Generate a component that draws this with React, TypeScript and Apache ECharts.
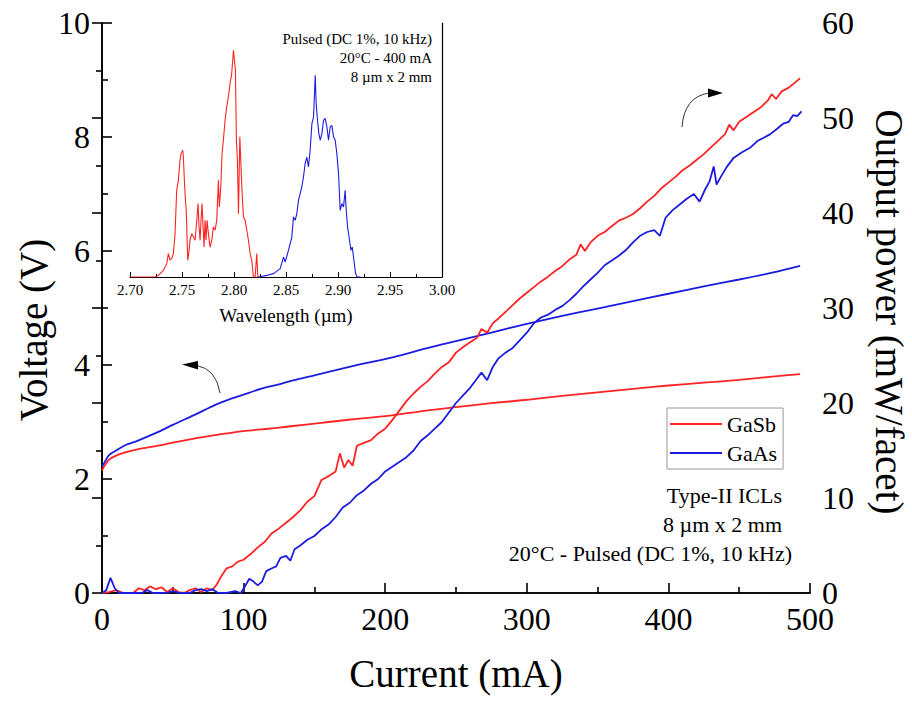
import React, { useEffect, useRef } from 'react';
import * as echarts from 'echarts';

// ---- Main chart: voltage (left axis) ----
const currentV = [0, 2, 5, 10, 17, 25, 41, 50, 65, 80, 88, 100, 112, 125, 135, 150, 160, 182, 206, 229, 250, 275, 300, 325, 350, 375, 400, 425, 450, 475, 493];
const gasbVoltage = [2.15, 2.24, 2.34, 2.41, 2.47, 2.52, 2.59, 2.64, 2.71, 2.77, 2.8, 2.84, 2.87, 2.9, 2.93, 2.97, 3.0, 3.06, 3.12, 3.2, 3.26, 3.33, 3.39, 3.46, 3.52, 3.58, 3.64, 3.69, 3.74, 3.8, 3.84];
const gaasVoltage = [2.22, 2.3, 2.42, 2.5, 2.6, 2.67, 2.84, 2.95, 3.12, 3.3, 3.38, 3.48, 3.58, 3.66, 3.73, 3.82, 3.88, 4.01, 4.14, 4.29, 4.42, 4.57, 4.72, 4.86, 4.99, 5.12, 5.25, 5.38, 5.5, 5.63, 5.74];

// ---- Main chart: output power (right axis) ----
const gasbPowerI = [0, 5, 10, 15, 22, 26, 30, 34, 38, 42, 46, 50, 54, 58, 62, 66, 70, 74, 78, 81, 84, 88, 92, 96, 100, 105, 110, 115, 120, 125, 130, 135, 140, 145, 150, 155, 160, 165, 168, 171, 174, 177, 180, 185, 190, 195, 200, 205, 210, 215, 220, 225, 230, 235, 240, 245, 250, 255, 260, 265, 268, 272, 276, 280, 285, 290, 295, 300, 305, 310, 315, 320, 325, 330, 335, 338, 341, 345, 350, 355, 360, 365, 370, 375, 380, 385, 390, 395, 400, 405, 410, 415, 420, 425, 430, 435, 440, 443, 446, 450, 455, 460, 465, 470, 473, 476, 480, 485, 490, 493];
const gasbPower = [0, 0.1, 0.3, 0, 0, 0.5, 0.3, 0.7, 0.4, 0.6, 0.1, 0.5, 0.1, 0, 0.3, 0.5, 0.1, 0.5, 0.3, 0.9, 1.7, 2.6, 2.8, 3.3, 3.5, 4.1, 4.8, 5.4, 6.3, 6.8, 7.4, 8.0, 8.7, 9.6, 10.2, 11.9, 12.3, 12.8, 14.7, 13.2, 14.0, 13.4, 15.5, 15.8, 16.1, 16.8, 17.3, 18.2, 19.2, 20.2, 21.0, 21.7, 22.3, 23.1, 23.8, 24.3, 25.3, 25.9, 26.4, 26.9, 27.8, 27.4, 28.4, 28.9, 29.6, 30.3, 31.0, 31.6, 32.2, 32.8, 33.3, 33.9, 34.4, 35.1, 35.6, 36.7, 36.0, 36.9, 37.6, 38.0, 38.6, 39.2, 39.5, 39.9, 40.5, 41.2, 41.8, 42.6, 43.2, 43.8, 44.5, 45.0, 45.6, 46.2, 46.9, 47.6, 48.3, 49.3, 48.7, 49.6, 50.1, 50.6, 51.1, 51.8, 52.5, 52.0, 52.8, 53.2, 53.8, 54.2];
const gaasPowerI = [0, 3, 6, 9, 12, 20, 28, 32, 36, 45, 50, 55, 62, 66, 70, 74, 78, 82, 88, 94, 98, 101, 104, 107, 110, 113, 116, 120, 123, 126, 130, 133, 136, 140, 145, 150, 155, 160, 165, 170, 175, 180, 185, 190, 195, 200, 205, 210, 215, 220, 225, 230, 235, 240, 245, 250, 255, 260, 265, 268, 272, 276, 280, 285, 290, 295, 300, 305, 310, 315, 320, 325, 330, 335, 340, 345, 350, 355, 360, 365, 370, 375, 380, 385, 390, 394, 398, 403, 408, 413, 418, 422, 426, 429, 432, 434, 437, 441, 446, 452, 458, 463, 467, 472, 477, 481, 485, 488, 491, 494];
const gaasPower = [0, 0.3, 1.6, 0.5, 0, 0, 0, 0.3, 0, 0, 0.2, 0, 0, 0.3, 0.4, 0.2, 0.4, 0, 0, 0.2, 0, 0.7, 1.5, 1.2, 0.8, 1.2, 2.3, 2.6, 2.8, 3.7, 3.9, 3.4, 4.6, 5.0, 5.6, 6.0, 6.7, 7.2, 8.0, 9.0, 9.5, 10.3, 10.8, 11.5, 12.0, 12.8, 13.3, 13.8, 14.3, 15.0, 16.0, 16.6, 17.3, 18.0, 19.0, 20.0, 20.8, 21.6, 22.6, 23.2, 22.4, 23.8, 24.7, 25.3, 25.8, 26.6, 27.4, 28.4, 29.0, 29.3, 29.8, 30.2, 30.8, 31.5, 32.3, 33.0, 33.7, 34.5, 35.0, 35.5, 36.1, 36.9, 37.6, 38.0, 38.2, 37.6, 39.5, 40.3, 40.9, 41.5, 42.0, 41.2, 42.5, 43.3, 44.9, 43.0, 43.8, 44.8, 45.8, 46.4, 46.9, 47.6, 47.9, 48.3, 48.9, 49.4, 49.6, 50.3, 50.2, 50.7];

// ---- Inset: emission spectra (normalised intensity) ----
const gasbWl = [2.7, 2.724, 2.7273, 2.7321, 2.7353, 2.7369, 2.7385, 2.7401, 2.7417, 2.7433, 2.7449, 2.7465, 2.7481, 2.7491, 2.7507, 2.7513, 2.7523, 2.7533, 2.7539, 2.7545, 2.7555, 2.7565, 2.7577, 2.7594, 2.761, 2.7626, 2.7642, 2.7654, 2.7664, 2.7674, 2.7683, 2.7693, 2.7703, 2.7712, 2.7722, 2.7731, 2.7741, 2.7754, 2.777, 2.7786, 2.7802, 2.7818, 2.7834, 2.785, 2.7859, 2.7873, 2.7885, 2.7898, 2.7914, 2.793, 2.7946, 2.7962, 2.7978, 2.7995, 2.8004, 2.8014, 2.8023, 2.8033, 2.8043, 2.8056, 2.8065, 2.8078, 2.8091, 2.8107, 2.8123, 2.8139, 2.8155, 2.8171, 2.8187, 2.8203, 2.8219, 2.8229, 2.8251];
const gasbIntensity = [0, 0, 0.007, 0.029, 0.059, 0.103, 0.074, 0.081, 0.103, 0.191, 0.382, 0.426, 0.515, 0.544, 0.559, 0.529, 0.426, 0.338, 0.309, 0.235, 0.074, 0.103, 0.162, 0.191, 0.176, 0.162, 0.25, 0.324, 0.221, 0.162, 0.25, 0.324, 0.221, 0.132, 0.25, 0.162, 0.25, 0.191, 0.132, 0.162, 0.221, 0.206, 0.25, 0.426, 0.309, 0.397, 0.544, 0.603, 0.691, 0.75, 0.794, 0.853, 0.897, 1.0, 0.956, 0.912, 0.603, 0.515, 0.279, 0.618, 0.515, 0.368, 0.265, 0.25, 0.206, 0.162, 0.103, 0.074, 0, 0, 0.103, 0, 0];
const gaasWl = [2.8235, 2.8315, 2.838, 2.8444, 2.8476, 2.8492, 2.8524, 2.8556, 2.8572, 2.8588, 2.8604, 2.862, 2.8636, 2.8652, 2.8668, 2.8684, 2.87, 2.8716, 2.8732, 2.8749, 2.8765, 2.8781, 2.879, 2.8803, 2.8816, 2.8829, 2.8845, 2.8861, 2.8877, 2.8893, 2.8909, 2.8925, 2.8941, 2.8957, 2.8973, 2.8989, 2.9005, 2.9021, 2.9037, 2.9053, 2.9069, 2.9079, 2.9092, 2.9111, 2.9124, 2.9137, 2.9153, 2.9169, 2.9185, 2.9217];
const gaasIntensity = [0, 0.007, 0.015, 0.037, 0.088, 0.066, 0.118, 0.176, 0.265, 0.25, 0.279, 0.338, 0.368, 0.397, 0.441, 0.5, 0.529, 0.485, 0.559, 0.676, 0.706, 0.89, 0.765, 0.691, 0.632, 0.603, 0.632, 0.691, 0.699, 0.662, 0.603, 0.662, 0.669, 0.618, 0.603, 0.544, 0.456, 0.294, 0.324, 0.309, 0.382, 0.294, 0.221, 0.162, 0.118, 0.132, 0.074, 0.015, 0, 0];

const seriesNames = ['GaSb', 'GaAs'];
const insetNotes = ['Pulsed (DC 1%, 10 kHz)', '20°C - 400 mA', '8 µm x 2 mm'];
const mainNotes = ['Type-II ICLs', '8 µm x 2 mm', '20°C - Pulsed (DC 1%, 10 kHz)'];

const RED = '#ff2424';
const BLUE = '#1c1ce0';
const SERIF = 'Liberation Serif, Times New Roman, serif';

const zip = (xs: number[], ys: number[]) => xs.map((x, i) => [x, ys[i]]);

function buildOption() {
  const axisLine = { show: true, lineStyle: { color: '#000', width: 1.6 } };
  const tickStyle = { color: '#000', width: 1.6 };
  const mainLabel = { color: '#000', fontSize: 32, fontFamily: SERIF };
  return {
    animation: false,
    backgroundColor: '#fff',
    textStyle: { fontFamily: SERIF },
    grid: [
      { left: 102, right: 102, top: 23, bottom: 109 },
      { left: 130, right: 470, top: 23, bottom: 425 },
    ],
    xAxis: [
      {
        type: 'value', gridIndex: 0, min: 0, max: 500, interval: 100,
        axisLine, axisTick: { show: true, inside: true, length: 10, lineStyle: tickStyle },
        minorTick: { show: true, splitNumber: 2, length: 6, lineStyle: tickStyle },
        axisLabel: { ...mainLabel, margin: 13, lineHeight: 26 },
        splitLine: { show: false },
      },
      {
        type: 'value', gridIndex: 0, position: 'top', min: 0, max: 500,
        axisLine, axisTick: { show: false }, axisLabel: { show: false }, splitLine: { show: false },
      },
      {
        type: 'value', gridIndex: 1, min: 2.7, max: 3.0, interval: 0.05,
        axisLine: { show: true, lineStyle: { color: '#000', width: 1.2 } },
        axisTick: { show: true, inside: true, length: 5, lineStyle: { color: '#000', width: 1 } },
        minorTick: { show: true, splitNumber: 2, length: 3, lineStyle: { color: '#000', width: 1 } },
        axisLabel: { color: '#000', fontSize: 15, fontFamily: SERIF, margin: 5, formatter: (v: number) => v.toFixed(2) },
        splitLine: { show: false },
      },
    ],
    yAxis: [
      {
        type: 'value', gridIndex: 0, position: 'left', min: 0, max: 10, interval: 2,
        axisLine, axisTick: { show: true, inside: true, length: 10, lineStyle: tickStyle },
        minorTick: { show: true, splitNumber: 2, length: 6, lineStyle: tickStyle },
        axisLabel: { ...mainLabel, margin: 12, lineHeight: 22 },
        splitLine: { show: false },
      },
      {
        type: 'value', gridIndex: 0, position: 'right', min: 0, max: 60, interval: 10,
        axisLine, axisTick: { show: true, inside: true, length: 10, lineStyle: tickStyle },
        minorTick: { show: true, splitNumber: 2, length: 6, lineStyle: tickStyle },
        axisLabel: { ...mainLabel, margin: 12, lineHeight: 22 },
        splitLine: { show: false },
      },
      {
        type: 'value', gridIndex: 1, position: 'right', min: 0, max: 1.12,
        axisLine: { show: true, lineStyle: { color: '#000', width: 1.2 } },
        axisTick: { show: false }, axisLabel: { show: false }, splitLine: { show: false },
      },
    ],
    legend: {
      data: seriesNames,
      orient: 'vertical',
      left: 667, top: 408,
      icon: 'rect',
      itemWidth: 52, itemHeight: 2, itemGap: 7,
      padding: [5, 6, 5, 3],
      borderColor: '#999', borderWidth: 1,
      backgroundColor: '#fff',
      textStyle: { color: '#000', fontSize: 22, fontFamily: 'Liberation Serif', fontWeight: 'normal' },
      selectedMode: false,
    },
    series: [
      { name: seriesNames[0], type: 'line', xAxisIndex: 0, yAxisIndex: 0, data: zip(currentV, gasbVoltage), symbol: 'none', smooth: 0.3, lineStyle: { color: RED, width: 1.8 }, itemStyle: { color: RED } },
      { name: seriesNames[1], type: 'line', xAxisIndex: 0, yAxisIndex: 0, data: zip(currentV, gaasVoltage), symbol: 'none', smooth: 0.3, lineStyle: { color: BLUE, width: 1.8 }, itemStyle: { color: BLUE } },
      { name: seriesNames[0], type: 'line', xAxisIndex: 0, yAxisIndex: 1, data: zip(gasbPowerI, gasbPower), symbol: 'none', lineStyle: { color: RED, width: 1.8 }, itemStyle: { color: RED } },
      { name: seriesNames[1], type: 'line', xAxisIndex: 0, yAxisIndex: 1, data: zip(gaasPowerI, gaasPower), symbol: 'none', lineStyle: { color: BLUE, width: 1.8 }, itemStyle: { color: BLUE } },
      { name: 'GaSb spectrum', type: 'line', xAxisIndex: 2, yAxisIndex: 2, data: zip(gasbWl, gasbIntensity), symbol: 'none', lineStyle: { color: RED, width: 1.1 }, itemStyle: { color: RED } },
      { name: 'GaAs spectrum', type: 'line', xAxisIndex: 2, yAxisIndex: 2, data: zip(gaasWl, gaasIntensity), symbol: 'none', lineStyle: { color: BLUE, width: 1.1 }, itemStyle: { color: BLUE } },
    ],
    graphic: [
      { type: 'text', x: 33, y: 330, rotation: Math.PI / 2, style: { text: 'Voltage (V)', fontSize: 39, fontFamily: SERIF, fill: '#000', align: 'center', verticalAlign: 'middle' } },
      { type: 'text', x: 889, y: 312, rotation: -Math.PI / 2, style: { text: 'Output power (mW/facet)', fontSize: 39, fontFamily: SERIF, fill: '#000', align: 'center', verticalAlign: 'middle' } },
      { type: 'text', x: 456, y: 673, style: { text: 'Current (mA)', fontSize: 39, fontFamily: SERIF, fill: '#000', align: 'center', verticalAlign: 'middle' } },
      { type: 'text', x: 286, y: 315, style: { text: 'Wavelength (µm)', fontSize: 19, fontFamily: SERIF, fill: '#000', align: 'center', verticalAlign: 'middle' } },
      ...insetNotes.map((t, i) => ({ type: 'text', x: 432, y: 39 + i * 19, style: { text: t, fontSize: 15, fontFamily: SERIF, fill: '#000', align: 'right', verticalAlign: 'middle' } })),
      ...mainNotes.map((t, i) => ({ type: 'text', x: i < 2 ? 782 : 792, y: 495 + i * 29, style: { text: t, fontSize: 22, fontFamily: SERIF, fill: '#000', align: 'right', verticalAlign: 'middle' } })),
      { type: 'bezierCurve', shape: { x1: 682, y1: 127, cpx1: 684, cpy1: 97, x2: 709, y2: 93 }, style: { stroke: '#333', lineWidth: 1, fill: null } },
      { type: 'polygon', shape: { points: [[708, 88.5], [723, 93], [708, 97.5]] }, style: { fill: '#000' } },
      { type: 'bezierCurve', shape: { x1: 220, y1: 393, cpx1: 216, cpy1: 369, x2: 197, y2: 365.5 }, style: { stroke: '#333', lineWidth: 1, fill: null } },
      { type: 'polygon', shape: { points: [[198, 361], [182, 364.5], [198, 369.5]] }, style: { fill: '#000' } },
    ],
  };
}

export default function App() {
  const ref = useRef<HTMLDivElement>(null);
  useEffect(() => {
    const chart = echarts.init(ref.current!, null, { renderer: 'svg' });
    chart.setOption(buildOption() as any);
    return () => chart.dispose();
  }, []);
  return <div ref={ref} style={{ position: 'absolute', left: 0, top: 0, width: 912, height: 702, background: '#fff' }} />;
}
